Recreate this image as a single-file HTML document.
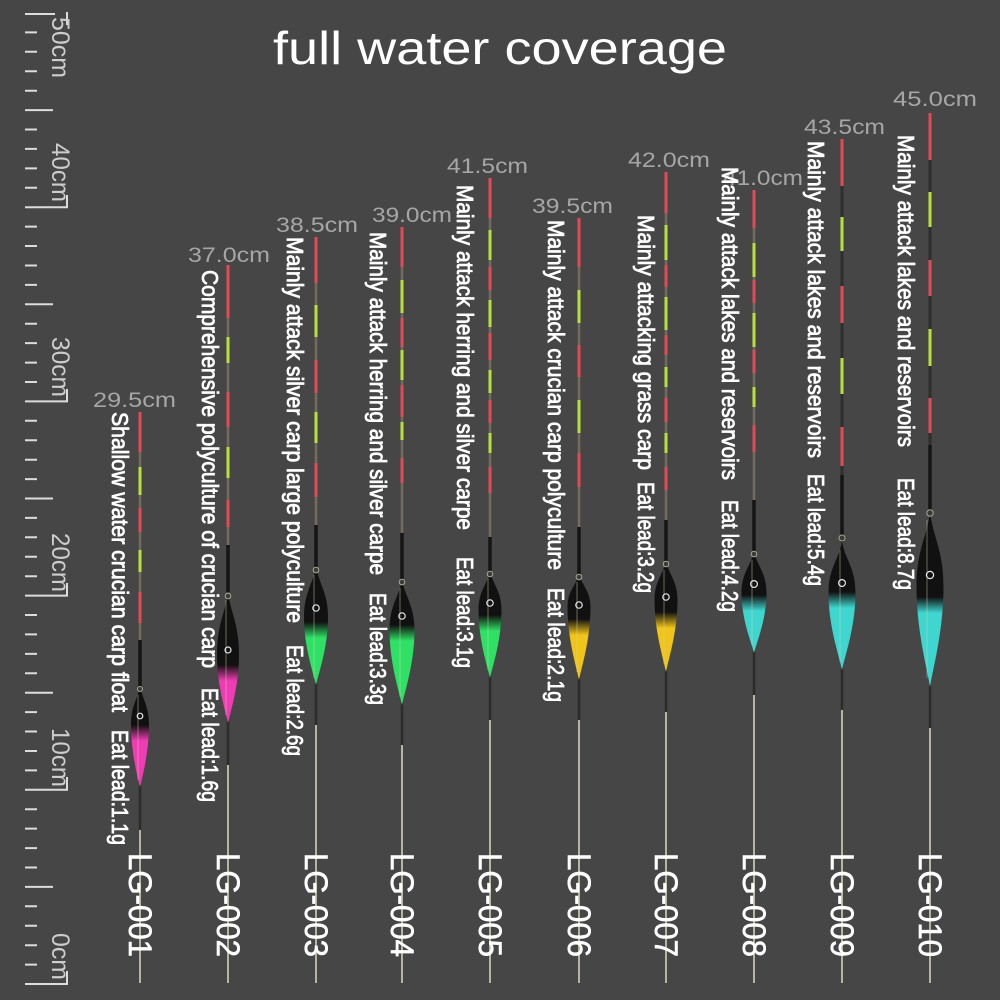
<!DOCTYPE html>
<html><head><meta charset="utf-8"><style>
html,body{margin:0;padding:0;background:#464646;}
svg{display:block;}
text{font-family:"Liberation Sans",Arial,sans-serif;}
</style></head><body>
<svg width="1000" height="1000" viewBox="0 0 1000 1000" xmlns="http://www.w3.org/2000/svg">
<defs>
<linearGradient id="g1" gradientUnits="userSpaceOnUse" x1="0" y1="725" x2="0" y2="741"><stop offset="0" stop-color="#111"/><stop offset="1" stop-color="#f03cb4"/></linearGradient>
<linearGradient id="g2" gradientUnits="userSpaceOnUse" x1="0" y1="665" x2="0" y2="681"><stop offset="0" stop-color="#111"/><stop offset="1" stop-color="#f03cb4"/></linearGradient>
<linearGradient id="g3" gradientUnits="userSpaceOnUse" x1="0" y1="622" x2="0" y2="638"><stop offset="0" stop-color="#111"/><stop offset="1" stop-color="#2ee064"/></linearGradient>
<linearGradient id="g4" gradientUnits="userSpaceOnUse" x1="0" y1="625" x2="0" y2="641"><stop offset="0" stop-color="#111"/><stop offset="1" stop-color="#2ee064"/></linearGradient>
<linearGradient id="g5" gradientUnits="userSpaceOnUse" x1="0" y1="615" x2="0" y2="631"><stop offset="0" stop-color="#111"/><stop offset="1" stop-color="#2ee064"/></linearGradient>
<linearGradient id="g6" gradientUnits="userSpaceOnUse" x1="0" y1="619" x2="0" y2="635"><stop offset="0" stop-color="#111"/><stop offset="1" stop-color="#f0c418"/></linearGradient>
<linearGradient id="g7" gradientUnits="userSpaceOnUse" x1="0" y1="612" x2="0" y2="628"><stop offset="0" stop-color="#111"/><stop offset="1" stop-color="#f0c418"/></linearGradient>
<linearGradient id="g8" gradientUnits="userSpaceOnUse" x1="0" y1="595" x2="0" y2="611"><stop offset="0" stop-color="#111"/><stop offset="1" stop-color="#3ed6cf"/></linearGradient>
<linearGradient id="g9" gradientUnits="userSpaceOnUse" x1="0" y1="592" x2="0" y2="608"><stop offset="0" stop-color="#111"/><stop offset="1" stop-color="#3ed6cf"/></linearGradient>
<linearGradient id="g10" gradientUnits="userSpaceOnUse" x1="0" y1="597" x2="0" y2="613"><stop offset="0" stop-color="#111"/><stop offset="1" stop-color="#3ed6cf"/></linearGradient>
</defs>
<rect x="0" y="0" width="1000" height="1000" fill="#464646"/>

<!-- Title -->
<text x="273" y="64" font-size="46" fill="#ffffff" textLength="454" lengthAdjust="spacingAndGlyphs">full water coverage</text>

<!-- Ruler -->
<g stroke="#dcdcdc" stroke-width="2" fill="none">
<path d="M25,964.6h12M25,945.2h12M25,925.7h12M25,906.3h12M25,867.5h12M25,848.1h12M25,828.6h12M25,809.2h12M25,770.4h12M25,751h12M25,731.5h12M25,712.1h12M25,673.3h12M25,653.9h12M25,634.4h12M25,615h12M25,576.2h12M25,556.8h12M25,537.3h12M25,517.9h12M25,479.1h12M25,459.7h12M25,440.2h12M25,420.8h12M25,382h12M25,362.6h12M25,343.1h12M25,323.7h12M25,284.9h12M25,265.5h12M25,246h12M25,226.6h12M25,187.8h12M25,168.4h12M25,148.9h12M25,129.5h12M25,90.7h12M25,71.3h12M25,51.8h12M25,32.4h12"/>
<path d="M25,886.9h28M25,692.7h28M25,498.5h28M25,304.3h28M25,110.1h28"/>
<path d="M25,984h42M67,971v14M25,789.8h42M67,777v13.8M25,595.6h42M67,583v13.6M25,401.4h42M67,389v13.4M25,207.2h42M67,195v13.2M25,14h30M67,12v13"/>
</g>
<g fill="#cdcdcd" font-size="25">
<text transform="translate(52,17) rotate(90)" textLength="61" lengthAdjust="spacingAndGlyphs">50cm</text>
<text transform="translate(52,143) rotate(90)" textLength="59" lengthAdjust="spacingAndGlyphs">40cm</text>
<text transform="translate(52,337) rotate(90)" textLength="60" lengthAdjust="spacingAndGlyphs">30cm</text>
<text transform="translate(52,533) rotate(90)" textLength="59" lengthAdjust="spacingAndGlyphs">20cm</text>
<text transform="translate(52,728) rotate(90)" textLength="59" lengthAdjust="spacingAndGlyphs">10cm</text>
<text transform="translate(52,933) rotate(90)" textLength="47" lengthAdjust="spacingAndGlyphs">0cm</text>
</g>

<!-- Height labels -->
<g fill="#a6a6a6" font-size="21">
<text x="93" y="407" textLength="83" lengthAdjust="spacingAndGlyphs">29.5cm</text>
<text x="188" y="262" textLength="82" lengthAdjust="spacingAndGlyphs">37.0cm</text>
<text x="276" y="232" textLength="82" lengthAdjust="spacingAndGlyphs">38.5cm</text>
<text x="372" y="222" textLength="80" lengthAdjust="spacingAndGlyphs">39.0cm</text>
<text x="447" y="173" textLength="81" lengthAdjust="spacingAndGlyphs">41.5cm</text>
<text x="532" y="213" textLength="81" lengthAdjust="spacingAndGlyphs">39.5cm</text>
<text x="628" y="167" textLength="82" lengthAdjust="spacingAndGlyphs">42.0cm</text>
<text x="723" y="185" textLength="80" lengthAdjust="spacingAndGlyphs">41.0cm</text>
<text x="804" y="134" textLength="81" lengthAdjust="spacingAndGlyphs">43.5cm</text>
<text x="893" y="106" textLength="84" lengthAdjust="spacingAndGlyphs">45.0cm</text>
</g>

<!-- Antenna bases -->
<g stroke-width="2.6" fill="none">
<path stroke="#726b5e" d="M140,412V640M228,265V545M316,237V525M402,227V533M490,178V537M579,218V527M666,172V520M754,190V500"/>
<path stroke="#2e2e2c" stroke-width="3" d="M842,139V475M930,113V445"/>
</g>
<!-- Red segments -->
<path stroke="#e24a56" stroke-width="3" fill="none" d="M140,412V452M140,508V532M140,592V623M228,265V318M228,392V427M228,500V527M316,237V283M316,360V393M316,463V497M402,227V267M402,318V347M402,385V417M402,458V483M490,178V218M490,267V290M490,333V360M490,400V423M490,467V493M579,218V267M579,345V377M579,453V487M666,172V213M666,265V287M666,335V355M666,398V422M666,467V490M754,190V228M754,280V303M754,350V373M754,425V452M842,139V186M842,286V323M842,427V466M930,113V160M930,260V296M930,398V433"/>
<!-- Green segments -->
<path stroke="#b8e03c" stroke-width="3" fill="none" d="M140,467V495M140,550V572M228,337V363M228,447V478M316,305V337M316,412V443M402,280V313M402,350V380M402,422V440M490,230V260M490,300V327M490,370V393M490,433V453M579,290V323M579,400V433M666,225V260M666,297V330M666,367V387M666,433V453M754,243V277M754,313V347M754,387V407M842,217V251M842,358V394M930,192V227M930,329V366"/>

<!-- Necks -->
<g stroke="#151515" stroke-width="3.5" fill="none">
<path d="M140,640V687M228,545V592M316,525V567M402,533V580M490,537V572M579,527V575M666,520V562M754,500V552M842,475V542M930,445V510"/>
</g>

<!-- Lower stems -->
<g fill="none">
<path stroke="#2c2c2a" stroke-width="2.6" d="M140,785V830M228,721V765M316,683V725M402,703V745M490,676V720M579,678V720M666,670V712M754,651V695M842,668V710M930,685V728"/>
<path stroke="#b8b59e" stroke-width="2" d="M140,830V983M228,765V983M316,725V983M402,745V983M490,720V983M579,720V983M666,712V983M754,695V983M842,710V983M930,728V983"/>
</g>

<!-- Bodies -->
<path fill="url(#g1)" d="M140,685 C142,699 149,705 149,725 C149,753 142,778 140,787 C138,778 131,753 131,725 C131,705 138,699 140,685Z"/>
<path fill="url(#g2)" d="M228,590 C230,613 239,622 239,655 C239,686 230,713 228,723 C226,713 217,686 217,655 C217,622 226,613 228,590Z"/>
<path fill="url(#g3)" d="M316,565 C318,583 328,591 328,617 C328,648 318,675 316,685 C314,675 304,648 304,617 C304,591 314,583 316,565Z"/>
<path fill="url(#g4)" d="M402,578 C404,596 414.5,604 414.5,630 C414.5,664 404,694 402,705 C400,694 389.5,664 389.5,630 C389.5,604 400,596 402,578Z"/>
<path fill="url(#g5)" d="M490,570 C492,584 501.5,590 501.5,610 C501.5,641 492,668 490,678 C488,668 478.5,641 478.5,610 C478.5,590 488,584 490,570Z"/>
<path fill="url(#g6)" d="M579,573 C581,585 590.5,590 590.5,607 C590.5,640 581,669 579,680 C577,669 567.5,640 567.5,607 C567.5,590 577,585 579,573Z"/>
<path fill="url(#g7)" d="M666,560 C668,574 677.5,580 677.5,600 C677.5,632 668,661 666,672 C664,661 654.5,632 654.5,600 C654.5,580 664,574 666,560Z"/>
<path fill="url(#g8)" d="M754,550 C756,565 766.5,571.5 766.5,593 C766.5,620 756,644 754,653 C752,644 741.5,620 741.5,593 C741.5,571.5 752,565 754,550Z"/>
<path fill="url(#g9)" d="M842,540 C844,558.5 855.5,566.5 855.5,593 C855.5,627.6 844,658.5 842,670 C840,658.5 828.5,627.6 828.5,593 C828.5,566.5 840,558.5 842,540Z"/>
<path fill="url(#g10)" d="M930,510 C932,536 943.5,548 943.5,587 C943.5,632 932,672 930,687 C928,672 916.5,632 916.5,587 C916.5,548 928,536 930,510Z"/>

<!-- Body highlights -->
<g stroke="#d8d4b8" stroke-opacity="0.45" stroke-width="1" fill="none">
<path d="M138,695V780M226,600V715M314,575V678M400,588V697M488,578V670M577,582V672M664,570V664M752,560V645M840,550V662M927,520V678"/>
</g>
<!-- Knobs -->
<g fill="#3a3a36" stroke="#a8a692" stroke-width="1">
<circle cx="140" cy="689" r="2.5"/><circle cx="228" cy="596" r="2.8"/><circle cx="316" cy="570" r="2.8"/><circle cx="402" cy="582" r="2.8"/><circle cx="490" cy="574" r="2.8"/><circle cx="579" cy="577" r="2.8"/><circle cx="666" cy="564" r="2.8"/><circle cx="754" cy="554" r="2.8"/><circle cx="842" cy="538" r="3"/><circle cx="930" cy="513" r="3.2"/>
</g>
<!-- Logos -->
<g fill="none" stroke="#e8e8e8" stroke-width="1.2">
<circle cx="140" cy="716" r="2.8"/><circle cx="228" cy="650" r="3"/><circle cx="316" cy="608" r="3.2"/><circle cx="402" cy="616" r="3.2"/><circle cx="490" cy="603" r="3.2"/><circle cx="579" cy="605" r="3.2"/><circle cx="666" cy="597" r="3.2"/><circle cx="754" cy="584" r="3.4"/><circle cx="842" cy="583" r="3.4"/><circle cx="930" cy="575" r="3.6"/>
</g>

<!-- Descriptions -->
<g fill="#ffffff" stroke="#ffffff" stroke-width="0.8" font-size="23">
<text transform="translate(112,412) rotate(90)" textLength="300" lengthAdjust="spacingAndGlyphs">Shallow water crucian carp float</text>
<text transform="translate(112,730) rotate(90)" textLength="115" lengthAdjust="spacingAndGlyphs">Eat lead:1.1g</text>
<text transform="translate(202,270) rotate(90)" textLength="398" lengthAdjust="spacingAndGlyphs">Comprehensive polyculture of crucian carp</text>
<text transform="translate(202,688) rotate(90)" textLength="114" lengthAdjust="spacingAndGlyphs">Eat lead:1.6g</text>
<text transform="translate(287,237) rotate(90)" textLength="386" lengthAdjust="spacingAndGlyphs">Mainly attack silver carp large polyculture</text>
<text transform="translate(287,645) rotate(90)" textLength="111" lengthAdjust="spacingAndGlyphs">Eat lead:2.6g</text>
<text transform="translate(370,232) rotate(90)" textLength="343" lengthAdjust="spacingAndGlyphs">Mainly attack herring and silver carpe</text>
<text transform="translate(370,593) rotate(90)" textLength="112" lengthAdjust="spacingAndGlyphs">Eat lead:3.3g</text>
<text transform="translate(457,185) rotate(90)" textLength="345" lengthAdjust="spacingAndGlyphs">Mainly attack herring and silver carpe</text>
<text transform="translate(457,557) rotate(90)" textLength="111" lengthAdjust="spacingAndGlyphs">Eat lead:3.1g</text>
<text transform="translate(548,220) rotate(90)" textLength="350" lengthAdjust="spacingAndGlyphs">Mainly attack crucian carp polyculture</text>
<text transform="translate(548,588) rotate(90)" textLength="114" lengthAdjust="spacingAndGlyphs">Eat lead:2.1g</text>
<text transform="translate(638,215) rotate(90)" textLength="255" lengthAdjust="spacingAndGlyphs">Mainly attacking grass carp</text>
<text transform="translate(638,482) rotate(90)" textLength="111" lengthAdjust="spacingAndGlyphs">Eat lead:3.2g</text>
<text transform="translate(722,167) rotate(90)" textLength="313" lengthAdjust="spacingAndGlyphs">Mainly attack lakes and reservoirs</text>
<text transform="translate(722,500) rotate(90)" textLength="112" lengthAdjust="spacingAndGlyphs">Eat lead:4.2g</text>
<text transform="translate(808,141) rotate(90)" textLength="317" lengthAdjust="spacingAndGlyphs">Mainly attack lakes and reservoirs</text>
<text transform="translate(808,474) rotate(90)" textLength="112" lengthAdjust="spacingAndGlyphs">Eat lead:5.4g</text>
<text transform="translate(898,135) rotate(90)" textLength="312" lengthAdjust="spacingAndGlyphs">Mainly attack lakes and reservoirs</text>
<text transform="translate(898,478) rotate(90)" textLength="112" lengthAdjust="spacingAndGlyphs">Eat lead:8.7g</text>
</g>

<!-- Model labels -->
<g fill="#ffffff" stroke="#ffffff" stroke-width="0.6" font-size="32">
<text transform="translate(129,853) rotate(90)" textLength="104" lengthAdjust="spacingAndGlyphs">LG-001</text>
<text transform="translate(217,853) rotate(90)" textLength="104" lengthAdjust="spacingAndGlyphs">LG-002</text>
<text transform="translate(305,853) rotate(90)" textLength="104" lengthAdjust="spacingAndGlyphs">LG-003</text>
<text transform="translate(391,853) rotate(90)" textLength="104" lengthAdjust="spacingAndGlyphs">LG-004</text>
<text transform="translate(479,853) rotate(90)" textLength="104" lengthAdjust="spacingAndGlyphs">LG-005</text>
<text transform="translate(568,853) rotate(90)" textLength="104" lengthAdjust="spacingAndGlyphs">LG-006</text>
<text transform="translate(655,853) rotate(90)" textLength="104" lengthAdjust="spacingAndGlyphs">LG-007</text>
<text transform="translate(743,853) rotate(90)" textLength="104" lengthAdjust="spacingAndGlyphs">LG-008</text>
<text transform="translate(831,853) rotate(90)" textLength="104" lengthAdjust="spacingAndGlyphs">LG-009</text>
<text transform="translate(919,853) rotate(90)" textLength="104" lengthAdjust="spacingAndGlyphs">LG-010</text>
</g>
</svg>
</body></html>
